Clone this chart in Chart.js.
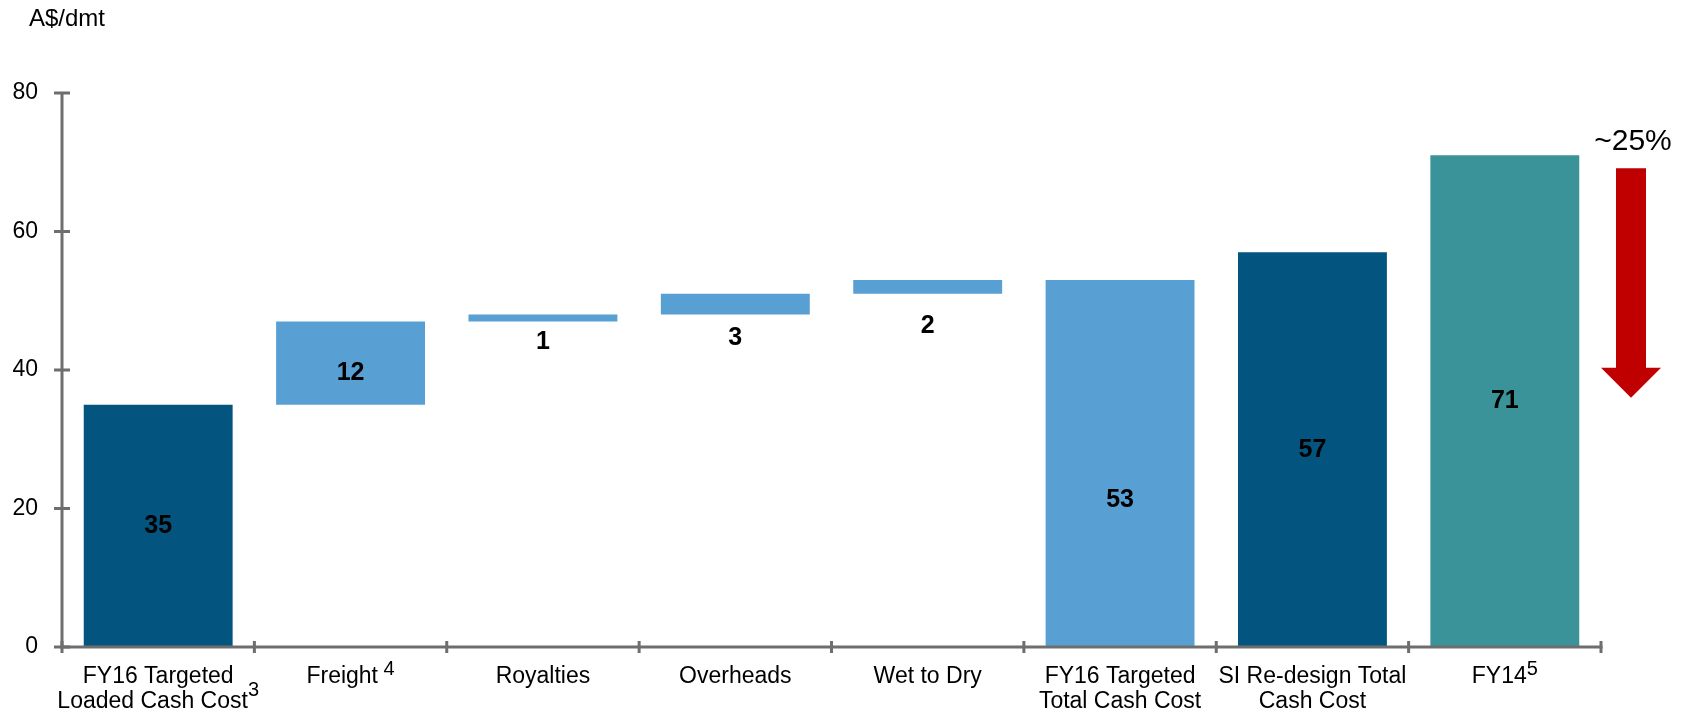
<!DOCTYPE html>
<html>
<head>
<meta charset="utf-8">
<script src="https://cdn.jsdelivr.net/npm/chart.js@4/dist/chart.umd.min.js"></script>
<style>
  html, body { margin: 0; padding: 0; background: #fff; }
  #wrap { width: 1689px; height: 712px; position: relative; }
</style>
</head>
<body>
<div id="wrap"><canvas id="c" width="1689" height="712"></canvas></div>
<script>
// Cost bridge, A$ per dry metric tonne
const categories = [
  ['FY16 Targeted', 'Loaded Cash Cost'],
  ['Freight'],
  ['Royalties'],
  ['Overheads'],
  ['Wet to Dry'],
  ['FY16 Targeted', 'Total Cash Cost'],
  ['SI Re-design Total', 'Cash Cost'],
  ['FY14']
];
const footnotes = ['3', ' 4', '', '', '', '', '', '5'];
const amounts = [35, 12, 1, 3, 2, 53, 57, 71];
const barKinds = ['total', 'step', 'step', 'step', 'step', 'total', 'total', 'total'];
const yTicks = [0, 20, 40, 60, 80];
const unitLabel = 'A$/dmt';
const changeLabel = '~25%';

// Styling
const FONT = '"Liberation Sans", Arial, Helvetica, sans-serif';
const DARK = '#03557F', LIGHT = '#589FD4', TEAL = '#3A9399';
const barColors = [DARK, LIGHT, LIGHT, LIGHT, LIGHT, LIGHT, DARK, TEAL];
// where each value label sits: fraction of the bar height, or pixels below the bar
const labelInside = [0.5, 0.38, null, null, null, 0.4, 0.5, 0.5];
const labelBelow = [0, 0, 21, 24, 32, 0, 0, 0];

// Floating [low, high] ranges for the bridge
let running = 0;
const ranges = amounts.map((v, i) => {
  if (barKinds[i] === 'total') { running = v; return [0, v]; }
  const r = [running, running + v];
  running += v;
  return r;
});

const AXIS = '#6E6E6E';

const bridgePlugin = {
  id: 'bridgeDecor',
  afterDatasetsDraw(chart) {
    const ctx = chart.ctx;
    const area = chart.chartArea;
    const xs = chart.scales.x, ys = chart.scales.y;

    // axes with crossing tick marks
    ctx.save();
    ctx.strokeStyle = AXIS;
    ctx.lineWidth = 3;
    ctx.lineCap = 'butt';
    ctx.beginPath();
    ctx.moveTo(area.left, ys.getPixelForValue(yTicks[yTicks.length - 1]));
    ctx.lineTo(area.left, area.bottom);
    ctx.moveTo(area.left - 1.5, area.bottom);
    ctx.lineTo(area.right + 1.5, area.bottom);
    ctx.stroke();
    ctx.beginPath();
    yTicks.forEach(v => {
      const y = ys.getPixelForValue(v);
      ctx.moveTo(area.left - 8, y);
      ctx.lineTo(area.left + 8, y);
    });
    for (let i = 0; i <= categories.length; i++) {
      const x = xs.getPixelForValue(i - 0.5);
      ctx.moveTo(x, area.bottom - 6);
      ctx.lineTo(x, area.bottom + 6);
    }
    ctx.stroke();

    // value labels
    ctx.fillStyle = '#000';
    ctx.font = 'bold 25px ' + FONT;
    ctx.textAlign = 'center';
    ctx.textBaseline = 'middle';
    ranges.forEach((r, i) => {
      const x = xs.getPixelForValue(i);
      let y;
      if (labelInside[i] !== null) {
        y = ys.getPixelForValue(r[0] + labelInside[i] * (r[1] - r[0]));
      } else {
        y = ys.getPixelForValue(r[0]) + labelBelow[i];
      }
      ctx.fillText(String(amounts[i]), x, y);
    });

    // category labels with footnote markers
    ctx.textBaseline = 'alphabetic';
    ctx.textAlign = 'left';
    categories.forEach((lines, i) => {
      const cx = xs.getPixelForValue(i);
      lines.forEach((line, j) => {
        const baseY = area.bottom + 36 + j * 25;
        ctx.font = '23px ' + FONT;
        const w = ctx.measureText(line).width;
        const isLast = j === lines.length - 1;
        let supW = 0;
        if (isLast && footnotes[i]) {
          ctx.font = '20px ' + FONT;
          supW = ctx.measureText(footnotes[i]).width;
        }
        const x0 = cx - w / 2 - supW / 2;
        ctx.font = '23px ' + FONT;
        ctx.fillText(line, x0, baseY);
        if (supW) {
          ctx.font = '20px ' + FONT;
          ctx.fillText(footnotes[i], x0 + w, baseY - (j > 0 ? 12 : 8));
        }
      });
    });

    // unit label
    ctx.font = '24px ' + FONT;
    ctx.textAlign = 'left';
    ctx.textBaseline = 'middle';
    ctx.fillText(unitLabel, 29, 19);

    // reduction arrow beside the last bar
    const last = amounts.length - 1;
    const ax = area.right + 30;
    const aTop = ys.getPixelForValue(amounts[last]) + 13;
    const aTip = ys.getPixelForValue(36);
    ctx.fillStyle = '#C00000';
    ctx.beginPath();
    ctx.moveTo(ax - 15, aTop);
    ctx.lineTo(ax + 15, aTop);
    ctx.lineTo(ax + 15, aTip - 30);
    ctx.lineTo(ax + 30, aTip - 30);
    ctx.lineTo(ax, aTip);
    ctx.lineTo(ax - 30, aTip - 30);
    ctx.lineTo(ax - 15, aTip - 30);
    ctx.closePath();
    ctx.fill();

    ctx.fillStyle = '#000';
    ctx.font = '30px ' + FONT;
    ctx.textAlign = 'center';
    ctx.fillText(changeLabel, ax + 2, ys.getPixelForValue(amounts[last]) - 14);
    ctx.restore();
  }
};

new Chart(document.getElementById('c'), {
  type: 'bar',
  data: {
    labels: categories.map(l => l.join(' ')),
    datasets: [{
      data: ranges,
      backgroundColor: barColors,
      borderWidth: 0,
      barPercentage: 0.774,
      categoryPercentage: 1
    }]
  },
  options: {
    responsive: false,
    animation: false,
    devicePixelRatio: 1,
    layout: { padding: { top: 93, right: 88, left: 0, bottom: 0 } },
    plugins: { legend: { display: false }, tooltip: { enabled: false } },
    scales: {
      x: {
        grid: { display: false, drawTicks: false },
        border: { display: false },
        ticks: { display: false },
        afterFit(s) { s.height = 65; }
      },
      y: {
        min: 0,
        max: 80,
        afterBuildTicks(s) { s.ticks = yTicks.map(v => ({ value: v })); },
        grid: { display: false, drawTicks: false },
        border: { display: false },
        ticks: { padding: 24, color: '#000', font: { family: FONT, size: 23 } },
        afterFit(s) { s.width = 62; }
      }
    }
  },
  plugins: [bridgePlugin]
});
</script>
</body>
</html>
